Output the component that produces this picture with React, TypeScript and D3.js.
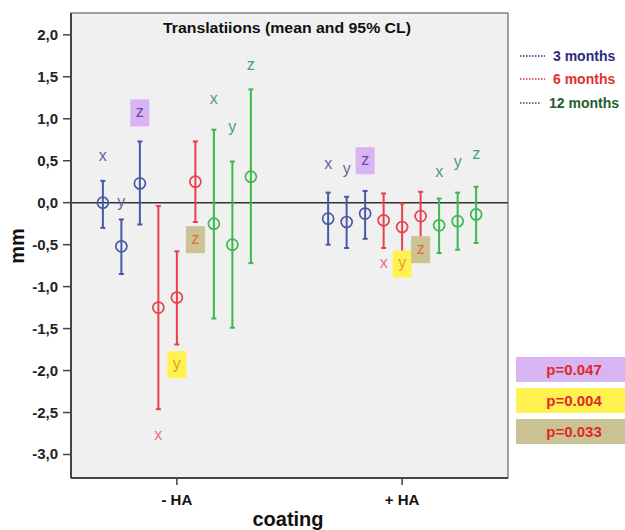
import React from 'react';
import * as d3 from 'd3';

const groups = ['- HA', '+ HA'];
const periods = ['3 months', '6 months', '12 months'];
const directions = ['x', 'y', 'z'];

// order: 3m x,y,z | 6m x,y,z | 12m x,y,z
const meanNoHA = [0.0, -0.52, 0.23, -1.25, -1.13, 0.25, -0.25, -0.5, 0.31];
const lowerNoHA = [-0.3, -0.85, -0.26, -2.46, -1.69, -0.23, -1.38, -1.49, -0.72];
const upperNoHA = [0.26, -0.2, 0.73, -0.04, -0.58, 0.73, 0.87, 0.49, 1.35];

const meanHA = [-0.19, -0.23, -0.13, -0.21, -0.29, -0.16, -0.27, -0.22, -0.14];
const lowerHA = [-0.5, -0.54, -0.43, -0.54, -0.59, -0.45, -0.6, -0.56, -0.48];
const upperHA = [0.12, 0.07, 0.14, 0.11, -0.01, 0.13, 0.05, 0.12, 0.19];

// letter annotation heights (mm)
const labelNoHA = [0.55, 0.0, 1.07, -2.77, -1.93, -0.44, 1.23, 0.9, 1.63];
const labelHA = [0.45, 0.39, 0.5, -0.72, -0.73, -0.56, 0.36, 0.48, 0.57];

// which p-value highlights each letter (-1 = none)
const highlightIndex = [-1, -1, 0, -1, 1, 2, -1, -1, -1];
const pValues = ['p=0.047', 'p=0.004', 'p=0.033'];

const yTicks = [-3, -2.5, -2, -1.5, -1, -0.5, 0, 0.5, 1, 1.5, 2];

const periodColors = ['#4858a8', '#e8404c', '#3cb84e'];
const labelColors = ['#66669a', '#e87080', '#4a9a86'];
const legendColors = ['#2a2a7c', '#e03030', '#1e5e30'];
const highlightFill = ['#d8b4f2', '#fff250', '#cbc393'];
const highlightText = ['#6a4a9a', '#e89a28', '#e0704a'];

const series = [
  { group: groups[0], mean: meanNoHA, lower: lowerNoHA, upper: upperNoHA, label: labelNoHA },
  { group: groups[1], mean: meanHA, lower: lowerHA, upper: upperHA, label: labelHA },
];

export default function App() {
  const W = 625;
  const H = 530;
  const left = 71, right = 508, top = 13, bottom = 478;
  const y = d3.scaleLinear().domain([-3.28, 2.26]).range([bottom, top]);
  const x = d3.scalePoint<string>().domain(groups).range([left, right]).padding(0.47);
  const off = d3.scalePoint<number>().domain(d3.range(9)).range([-74, 74]);
  const fmt = (v: number) => v.toFixed(1).replace('.', ',');
  const font = 'Liberation Sans, Arial, sans-serif';

  return (
    <svg width={W} height={H} style={{ position: 'absolute', left: 0, top: 0, background: '#fff' }} fontFamily={font}>
      <rect x={left} y={top} width={right - left} height={bottom - top} fill="#f0f0f0" stroke="#666" strokeWidth={1.2} />
      <text x={287} y={33} textAnchor="middle" fontSize={14.5} fontWeight="bold" fill="#111" textLength={248} lengthAdjust="spacingAndGlyphs">Translatiions (mean and 95% CL)</text>
      {/* zero line */}
      <line x1={left} x2={right} y1={y(0)} y2={y(0)} stroke="#333" strokeWidth={1.6} />
      {/* y axis */}
      <line x1={left} x2={left} y1={top} y2={bottom} stroke="#444" strokeWidth={2} />
      {yTicks.map((t) => (
        <g key={t}>
          <line x1={left - 8} x2={left} y1={y(t)} y2={y(t)} stroke="#444" strokeWidth={1.5} />
          <text x={left - 13} y={y(t) + 5} textAnchor="end" fontSize={15} fontWeight="bold" fill="#222">{fmt(t)}</text>
        </g>
      ))}
      <text transform={`translate(24, 246) rotate(-90)`} textAnchor="middle" fontSize={20} fontWeight="bold" fill="#111">mm</text>
      {/* x axis */}
      <line x1={left} x2={right} y1={bottom} y2={bottom} stroke="#444" strokeWidth={2} />
      {groups.map((g) => (
        <g key={g}>
          <line x1={x(g)!} x2={x(g)!} y1={bottom} y2={bottom + 7} stroke="#444" strokeWidth={1.5} />
          <text x={x(g)!} y={505} textAnchor="middle" fontSize={15} fontWeight="bold" fill="#111">{g}</text>
        </g>
      ))}
      <text x={288} y={526} textAnchor="middle" fontSize={20} fontWeight="bold" fill="#111">coating</text>

      {/* error bars */}
      {series.map((s) => (
        <g key={s.group}>
          {s.mean.map((m, i) => {
            const p = Math.floor(i / 3);
            const d = i % 3;
            const cx = x(s.group)! + off(i)!;
            const col = periodColors[p];
            const hi = highlightIndex[i];
            const ly = y(s.label[i]);
            return (
              <g key={i}>
                <line x1={cx} x2={cx} y1={y(s.lower[i])} y2={y(s.upper[i])} stroke={col} strokeWidth={2} />
                <line x1={cx - 2.5} x2={cx + 2.5} y1={y(s.lower[i])} y2={y(s.lower[i])} stroke={col} strokeWidth={2} />
                <line x1={cx - 2.5} x2={cx + 2.5} y1={y(s.upper[i])} y2={y(s.upper[i])} stroke={col} strokeWidth={2} />
                <circle cx={cx} cy={y(m)} r={5.5} fill="none" stroke={col} strokeWidth={1.7} />
                {hi >= 0 && (
                  <rect x={cx - 9.5} y={ly - 13.5} width={19} height={27} fill={highlightFill[hi]} />
                )}
                <text x={cx} y={ly + 4.5} textAnchor="middle" fontSize={16} fill={hi >= 0 ? highlightText[hi] : labelColors[p]}>
                  {directions[d]}
                </text>
              </g>
            );
          })}
        </g>
      ))}

      {/* legend */}
      {periods.map((p, i) => {
        const ly = [56, 79, 103][i];
        return (
          <g key={p}>
            <line x1={520} x2={i === 2 ? 540 : 545} y1={ly} y2={ly} stroke={legendColors[i]} strokeWidth={1.3} strokeDasharray="1.5,1.5" />
            <text x={i === 2 ? 549 : 553} y={ly + 4.5} fontSize={14} fontWeight="bold" fill={legendColors[i]}>{p}</text>
          </g>
        );
      })}

      {/* p-values */}
      {pValues.map((pv, i) => {
        const by = [357, 388, 419][i];
        return (
          <g key={pv}>
            <rect x={516} y={by} width={109} height={25} fill={highlightFill[i]} />
            <text x={574} y={by + 18} textAnchor="middle" fontSize={15} fontWeight="bold" fill="#e02828">{pv}</text>
          </g>
        );
      })}
    </svg>
  );
}
